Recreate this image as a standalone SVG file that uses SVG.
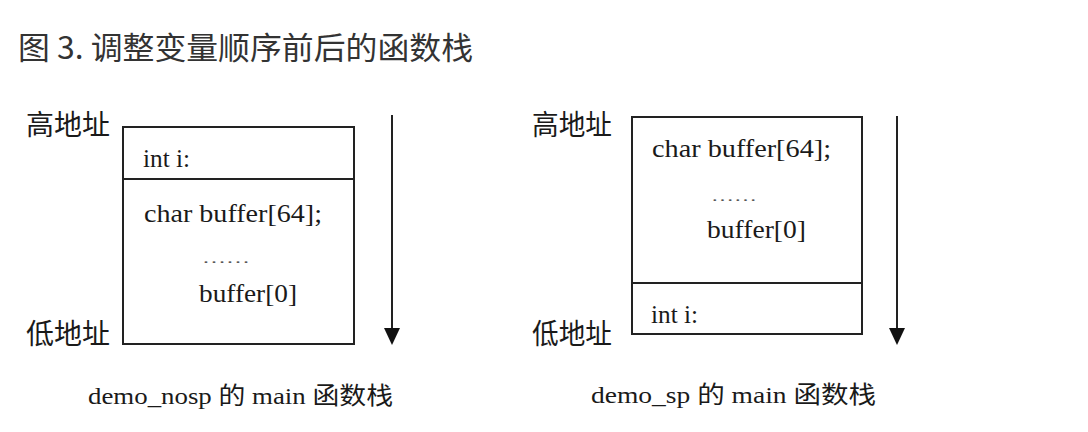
<svg xmlns="http://www.w3.org/2000/svg" width="1088" height="432" viewBox="0 0 1088 432">
<style>
.title{font-family:"Noto Sans CJK SC","Noto Sans",sans-serif;font-size:31px;fill:#333}
.addr{font-family:"Noto Sans CJK SC",sans-serif;font-size:28px;fill:#1a1a1a}
.code{font-family:"Liberation Serif","Times New Roman","DejaVu Serif",serif;font-size:25px;fill:#1a1a1a}
.dots{font-family:"Liberation Serif","Times New Roman","DejaVu Serif",serif;font-size:14px;fill:#555}
.cap{font-family:"Liberation Serif","Times New Roman","DejaVu Serif","Noto Sans CJK SC",serif;font-size:24px;fill:#1a1a1a}
.box{fill:#fff;stroke:#222;stroke-width:2}
.div{stroke:#222;stroke-width:2}
.arr{stroke:#222;stroke-width:2}
.head{fill:#111}
</style>
<rect width="1088" height="432" fill="#fff"/>
<text class="title" x="18" y="59" textLength="455" lengthAdjust="spacingAndGlyphs">图 3. 调整变量顺序前后的函数栈</text>

<g id="stack-nosp">
<rect class="box" x="123" y="127" width="231" height="217"/>
<line class="div" x1="123" y1="179" x2="354" y2="179"/>
<text class="code" x="143" y="167" textLength="47" lengthAdjust="spacingAndGlyphs">int i:</text>
<text class="code" x="144" y="222" textLength="178" lengthAdjust="spacingAndGlyphs">char buffer[64];</text>
<text class="dots" x="202" y="263" textLength="48" lengthAdjust="spacingAndGlyphs">……</text>
<text class="code" x="199" y="302" textLength="98" lengthAdjust="spacingAndGlyphs">buffer[0]</text>
</g>
<g id="labels-nosp">
<text class="addr" x="26" y="135" textLength="84" lengthAdjust="spacingAndGlyphs">高地址</text>
<text class="addr" x="26" y="344" textLength="84" lengthAdjust="spacingAndGlyphs">低地址</text>
<text class="cap" x="88" y="404" textLength="305" lengthAdjust="spacingAndGlyphs">demo_nosp 的 main 函数栈</text>
</g>

<g id="stack-sp">
<rect class="box" x="632" y="117" width="230" height="217"/>
<line class="div" x1="632" y1="283" x2="862" y2="283"/>
<text class="code" x="652" y="157" textLength="179" lengthAdjust="spacingAndGlyphs">char buffer[64];</text>
<text class="dots" x="711" y="201" textLength="46" lengthAdjust="spacingAndGlyphs">……</text>
<text class="code" x="707" y="238" textLength="99" lengthAdjust="spacingAndGlyphs">buffer[0]</text>
<text class="code" x="651" y="323" textLength="47" lengthAdjust="spacingAndGlyphs">int i:</text>
</g>
<g id="labels-sp">
<text class="addr" x="532" y="135" textLength="80" lengthAdjust="spacingAndGlyphs">高地址</text>
<text class="addr" x="532" y="344" textLength="80" lengthAdjust="spacingAndGlyphs">低地址</text>
<text class="cap" x="591" y="403" textLength="285" lengthAdjust="spacingAndGlyphs">demo_sp 的 main 函数栈</text>
</g>

<g id="connectors">
<line class="arr" x1="392" y1="115" x2="392" y2="330"/>
<polygon class="head" points="384,328 400,328 392,345"/>
<line class="arr" x1="897" y1="116" x2="897" y2="330"/>
<polygon class="head" points="889,328 905,328 897,345"/>
</g>
</svg>
